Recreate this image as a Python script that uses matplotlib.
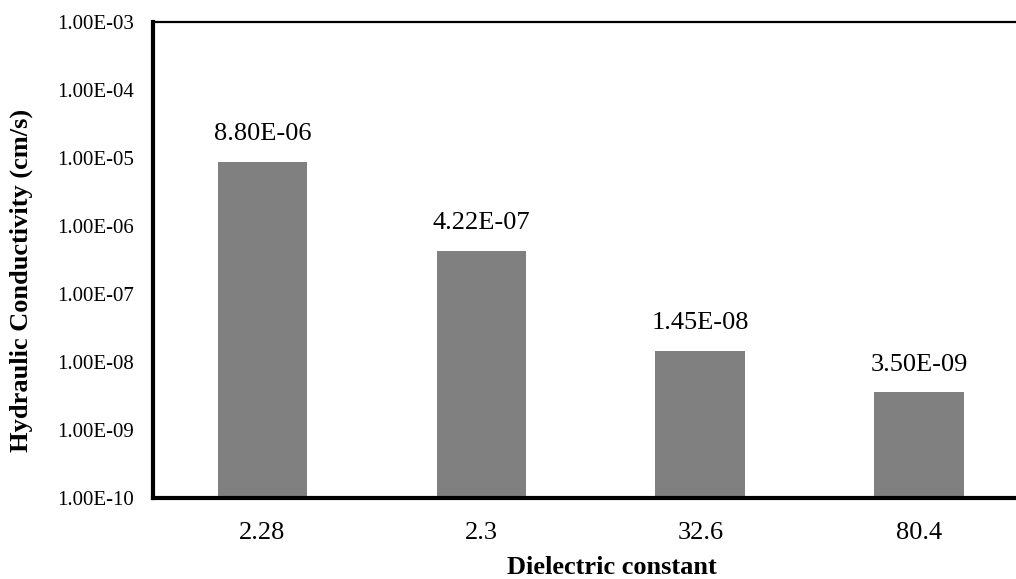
import matplotlib
matplotlib.use("Agg")
import matplotlib.pyplot as plt
import numpy as np

# values
categories = ["2.28", "2.3", "32.6", "80.4"]
conductivity = [8.80e-06, 4.22e-07, 1.45e-08, 3.50e-09]
bar_labels = ["8.80E-06", "4.22E-07", "1.45E-08", "3.50E-09"]
y_ticks = [1e-10, 1e-09, 1e-08, 1e-07, 1e-06, 1e-05, 1e-04, 1e-03]
y_tick_labels = ["1.00E-10", "1.00E-09", "1.00E-08", "1.00E-07",
                 "1.00E-06", "1.00E-05", "1.00E-04", "1.00E-03"]

plt.rcParams['font.family'] = ['Liberation Serif', 'DejaVu Serif']

fig = plt.figure(figsize=(10.16, 5.79), dpi=100)
ax = fig.add_axes([0.1506, 0.140, 0.862, 0.822])

x = np.arange(len(categories))
ax.bar(x, conductivity, width=0.41, color='#808080', bottom=1e-10)

ax.set_yscale('log')
ax.set_ylim(1e-10, 1e-03)
ax.set_xlim(-0.5, len(categories) - 0.5)

ax.set_yticks(y_ticks)
ax.set_yticklabels(y_tick_labels, fontsize=15)
ax.yaxis.set_minor_locator(matplotlib.ticker.NullLocator())
ax.set_xticks(x)
ax.set_xticklabels(categories, fontsize=19)
ax.tick_params(axis='both', length=0)
ax.tick_params(axis='y', pad=14)
ax.tick_params(axis='x', pad=17)

for xi, val, lab in zip(x, conductivity, bar_labels):
    ax.annotate(lab, (xi, val), xytext=(0, 16), textcoords='offset points',
                ha='center', va='baseline', fontsize=19)

ax.set_ylabel('Hydraulic Conductivity (cm/s)', fontsize=19, fontweight='bold')
ax.yaxis.set_label_coords(-0.137, 0.458)
ax.set_xlabel('Dielectric constant', fontsize=19, fontweight='bold')
ax.xaxis.set_label_coords(0.524, -0.121)
ax.xaxis.label.set_va('top')

ax.spines['right'].set_visible(False)
ax.spines['left'].set_linewidth(3)
ax.spines['bottom'].set_linewidth(3)
ax.spines['top'].set_linewidth(1.6)

fig.savefig('out.png', dpi=100)
